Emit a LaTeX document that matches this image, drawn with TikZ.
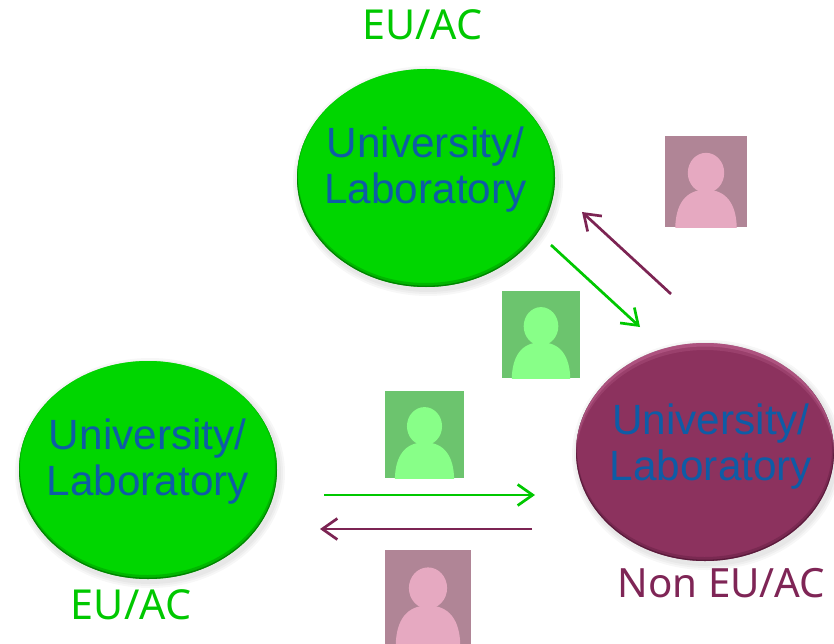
\documentclass[tikz,border=0pt]{standalone}
\usepackage{fontspec}
\setmainfont{Liberation Sans}
\newfontfamily\labelfont{Noto Sans}
\usetikzlibrary{arrows.meta,shapes.geometric}
\definecolor{eugreen}{HTML}{00D600}
\definecolor{eudark}{HTML}{006E00}
\definecolor{nonpurple}{HTML}{8C325E}
\definecolor{nondark}{HTML}{4E1533}
\definecolor{nonlight}{HTML}{C56A97}
\definecolor{labgreen}{HTML}{00C800}
\definecolor{labpurple}{HTML}{7F2556}
\definecolor{arrgreen}{HTML}{00C800}
\definecolor{arrpurple}{HTML}{7C2453}
\definecolor{textblue}{HTML}{0E5CA6}
\definecolor{icgbg}{HTML}{6CC46E}
\definecolor{icgfg}{HTML}{88FF88}
\definecolor{icpbg}{HTML}{B08596}
\definecolor{icpfg}{HTML}{E6A9C1}
\tikzset{
  labblob/.style={ellipse,inner sep=0pt,minimum width=258pt,minimum height=218pt,fill=#1},
  labtext/.style={text=textblue,align=center,font=\fontsize{42.3}{46}\selectfont,inner sep=0pt},
  setlabel/.style={font=\labelfont\fontsize{41.3}{44}\selectfont,inner sep=0pt},
  nonlabel/.style={font=\labelfont\fontsize{40.3}{44}\selectfont,inner sep=0pt},
  linkarrow/.style={line width=2.7pt,-{Straight Barb[length=15pt,width=21pt,line width=2.7pt]}},
}
% x y: centre; #3 base colour; #4 dark rim; #5 light rim
\newcommand{\bevelblob}[6]{%
  \foreach \g in {6,4,2}{\fill[black,opacity=.03] (#1+2,#2+3) ellipse ({129+\g} and {109+\g});}
  \node[labblob=#3] (#6) at (#1,#2) {};
  \begin{scope}
    \clip (#1,#2) ellipse (129 and 109);
    \fill[#4,opacity=.3,even odd rule] (#1,#2) ellipse (130 and 110) (#1-.5,#2-2.5) ellipse (127.5 and 107.5);
    \fill[#4,opacity=.7,even odd rule] (#1,#2) ellipse (130 and 110) (#1,#2-.8) ellipse (128.3 and 108.5);
    \fill[#5,opacity=.25,even odd rule] (#1,#2) ellipse (130 and 110) (#1,#2+7) ellipse (129 and 109);
    \fill[#5,opacity=.45,even odd rule] (#1,#2) ellipse (130 and 110) (#1,#2+3.5) ellipse (129 and 109);
  \end{scope}
}
% left top right bottom bg fg
\newcommand{\personicon}[6]{%
  \fill[#5] (#1,#2) rectangle (#3,#4);
  \begin{scope}
    \clip (#1,#2) rectangle (#3,#4);
    \pgfmathsetmacro{\cx}{(#1+#3)/2}
    \pgfmathsetmacro{\wd}{#3-#1}
    \pgfmathsetmacro{\ht}{#4-#2}
    \fill[#6] (\cx,{#2+.405*\ht}) ellipse ({.222*\wd} and {.22*\ht});
    \fill[#6] ({\cx-.375*\wd},{#4+1}) .. controls ({\cx-.37*\wd},{#2+.75*\ht}) and ({\cx-.25*\wd},{#2+.59*\ht}) .. (\cx,{#2+.59*\ht})
      .. controls ({\cx+.25*\wd},{#2+.59*\ht}) and ({\cx+.37*\wd},{#2+.75*\ht}) .. ({\cx+.375*\wd},{#4+1}) -- cycle;
  \end{scope}
}
\begin{document}
\begin{tikzpicture}[x=1pt,y=-1pt]
\useasboundingbox (0,0) rectangle (834,644);
\fill[white] (0,0) rectangle (834,644);

\bevelblob{426}{178}{eugreen}{eudark}{eugreen}{labTop}
\bevelblob{148}{470}{eugreen}{eudark}{eugreen}{labLeft}
\bevelblob{705}{452}{nonpurple}{nondark}{nonlight}{labRight}

\node[labtext] (textTop) at (425.5,169.5) {University/\\Laboratory};
\node[labtext] (textLeft) at (147.7,462) {University/\\Laboratory};
\node[labtext] (textRight) at (711,447) {University/\\Laboratory};

\node[setlabel,text=labgreen] (euTop) at (422.5,25) {EU/AC};
\node[setlabel,text=labgreen] (euLeft) at (131,605) {EU/AC};
\node[nonlabel,text=labpurple] (nonEu) at (721.5,583) {Non EU/AC};

\personicon{665}{136}{747}{227}{icpbg}{icpfg}
\personicon{502}{291}{580}{378}{icgbg}{icgfg}
\personicon{385}{391}{464}{478}{icgbg}{icgfg}
\personicon{385}{550}{471}{644}{icpbg}{icpfg}

\coordinate (a1) at (671,294);
\coordinate (a2) at (582,212);
\coordinate (b1) at (551,245);
\coordinate (b2) at (640,327);
\coordinate (c1) at (324,495);
\coordinate (c2) at (535,495);
\coordinate (d1) at (532,529);
\coordinate (d2) at (320,529);
\draw[linkarrow,arrpurple] (a1) -- (a2);
\draw[linkarrow,arrgreen] (b1) -- (b2);
\draw[linkarrow,arrgreen] (c1) -- (c2);
\draw[linkarrow,arrpurple] (d1) -- (d2);
\end{tikzpicture}
\end{document}
